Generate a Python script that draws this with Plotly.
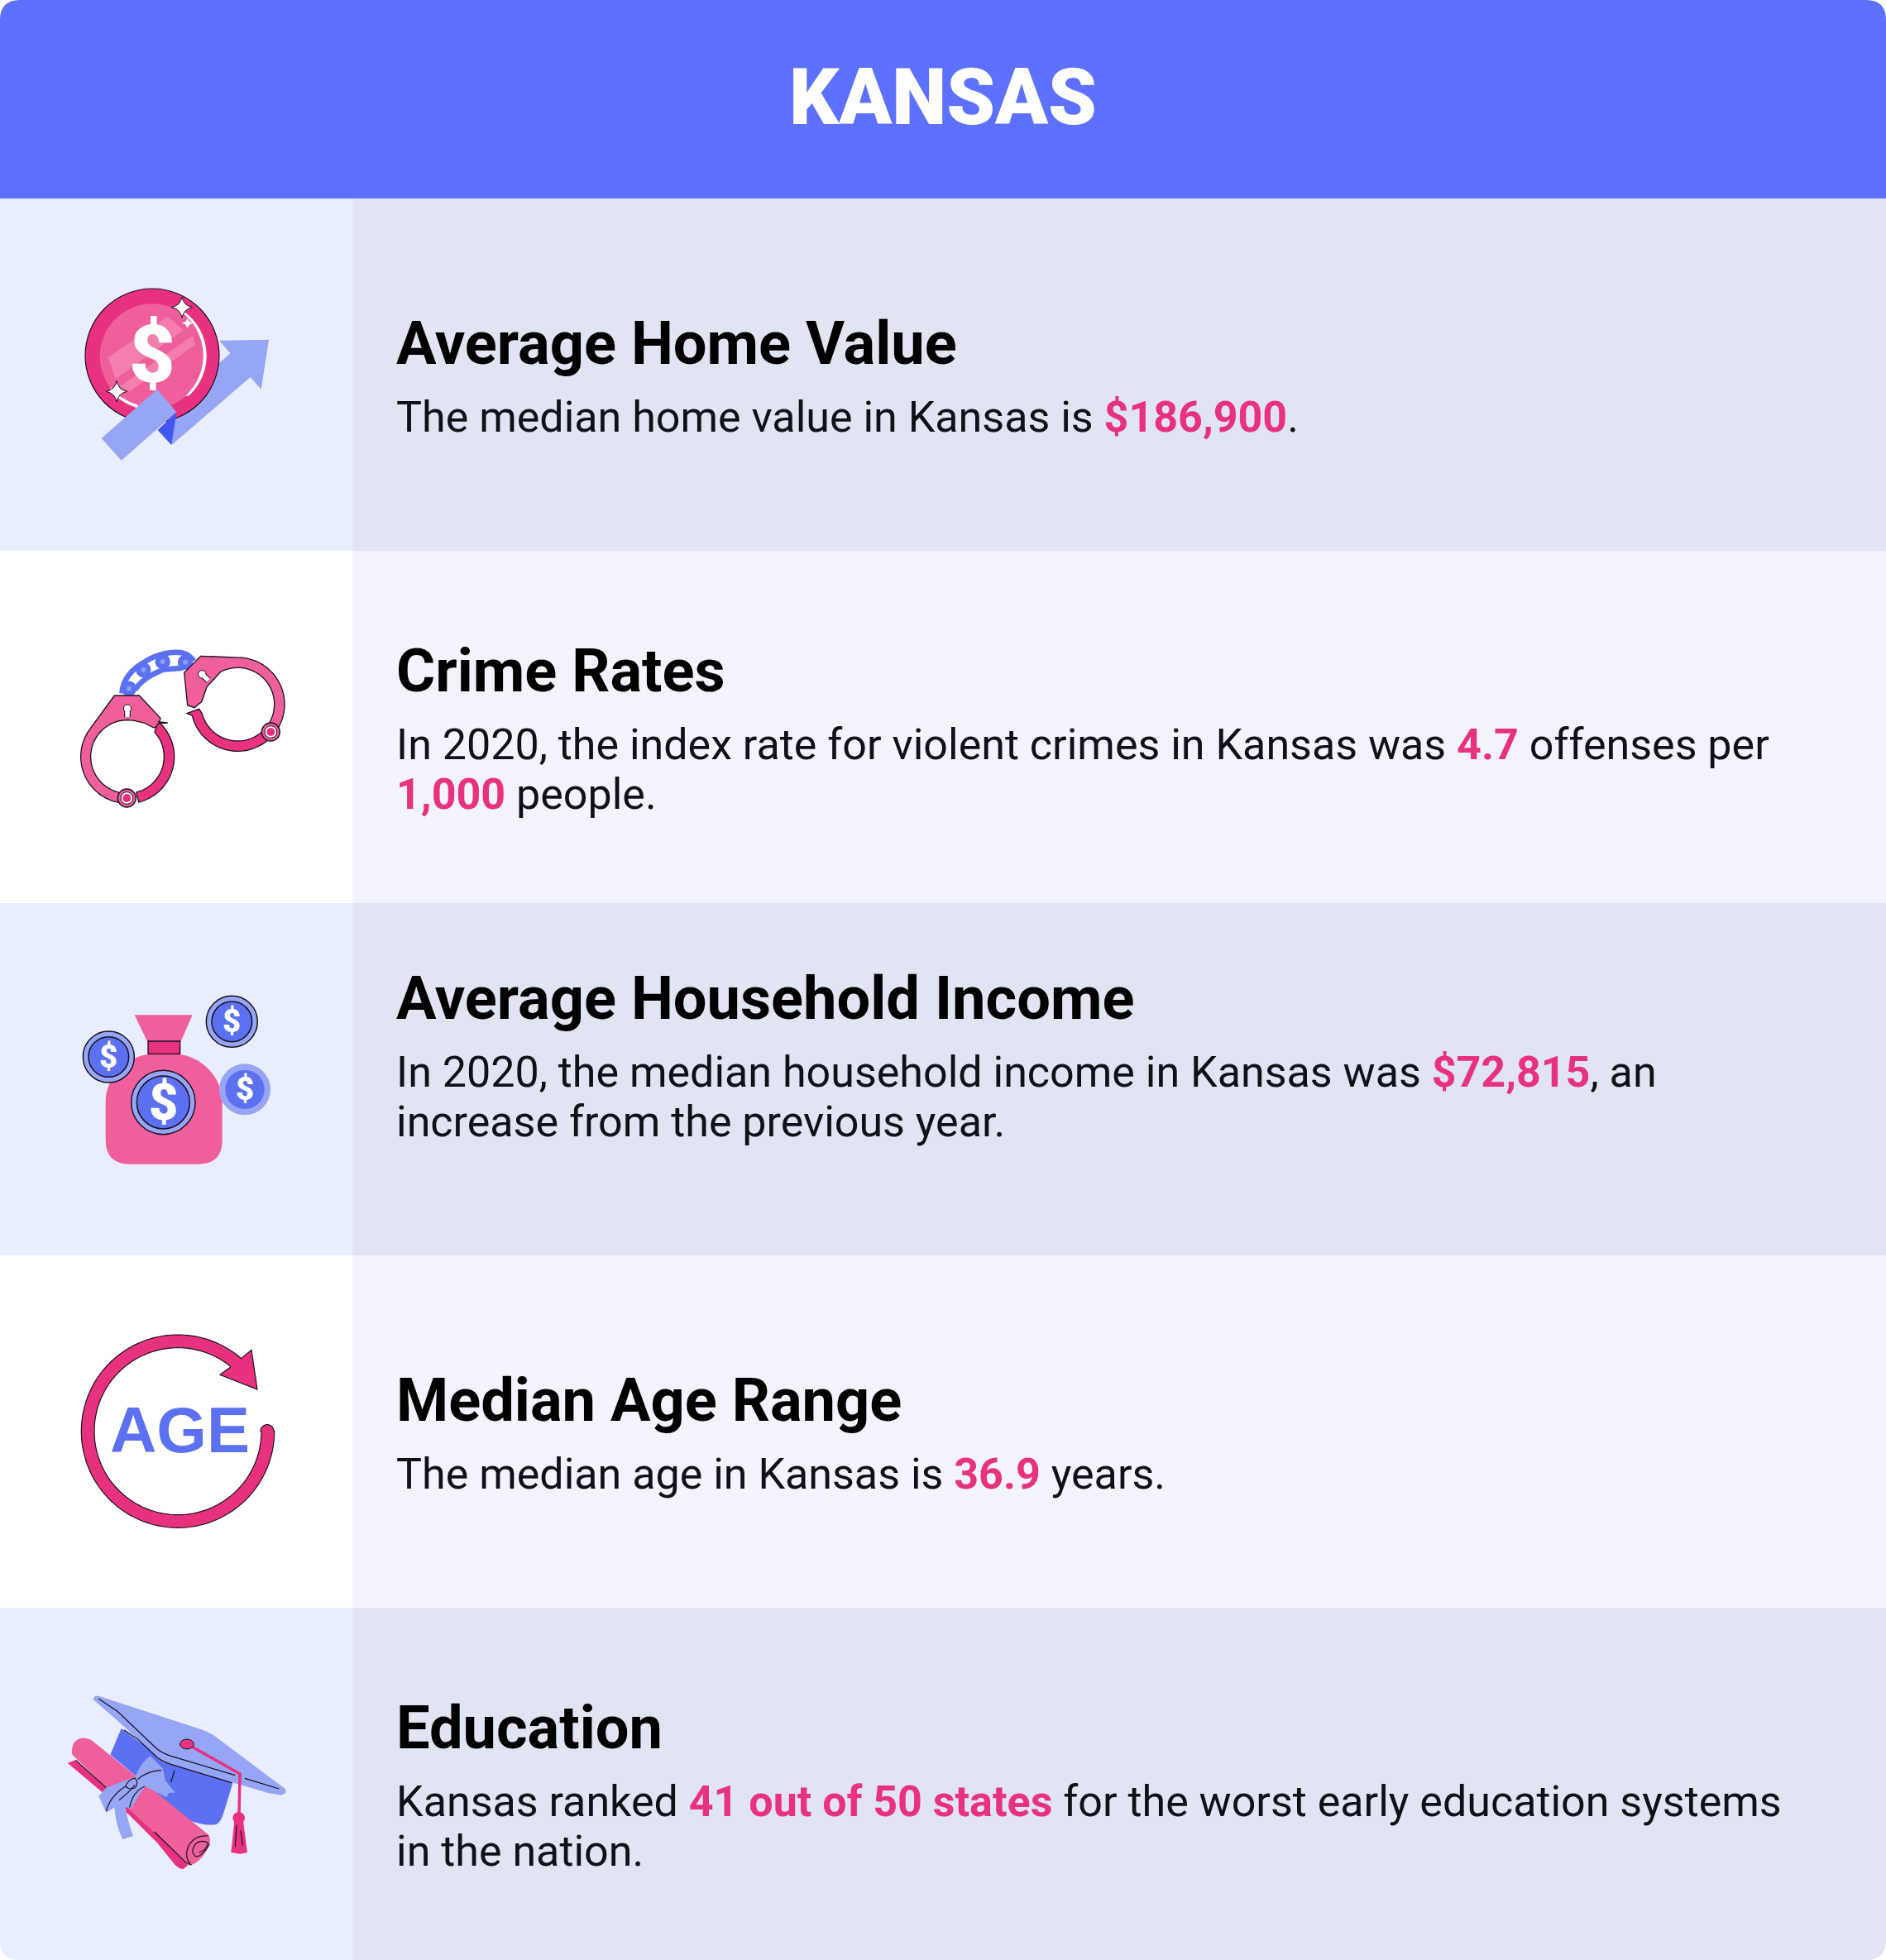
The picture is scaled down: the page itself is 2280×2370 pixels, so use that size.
import re
import numpy as np
import plotly.graph_objects as go

WIDTH, HEIGHT = 2280, 2370
TITLE = "KANSAS"
HEADINGS = ["Average Home Value", "Crime Rates", "Average Household Income", "Median Age Range", "Education"]
BODY_LINES = [
    ["The median home value in Kansas is {$186,900}."],
    ["In 2020, the index rate for violent crimes in Kansas was {4.7} offenses per", "{1,000} people."],
    ["In 2020, the median household income in Kansas was {$72,815}, an", "increase from the previous year."],
    ["The median age in Kansas is {36.9} years."],
    ["Kansas ranked {41 out of 50 states} for the worst early education systems", "in the nation."],
]
TEXT_SHIFT = [30, 0, -30, 30, 0]

BLUE = "#5C71FF"
COIN = "#5C70F2"
PERI = "#96A6F5"
DEEP = "#4258F5"
PINK = "#E8327F"
ROSE = "#EE5F9B"
BAND = "#F47FAF"
INK = "#1A1020"
LEFT_A, RIGHT_A = "#E9EEFF", "#E1E4F2"
LEFT_B, RIGHT_B = "#FFFFFF", "#F2F3FC"
HEADER_H, ROW_H, SPLIT, TEXT_X = 240, 426, 426, 478

shapes, notes = [], []


def add_path(d, fill="rgba(0,0,0,0)", line=None, w=1.0):
    shapes.append(dict(type="path", path=d, fillcolor=fill, layer="above",
                       line=dict(color=line or "rgba(0,0,0,0)", width=w if line else 0)))


class Icon:
    """Draws in the 3x crop coordinates of one icon cell."""

    def __init__(self, y0):
        self.y0 = y0

    def _xy(self, x, y):
        return x / 3, self.y0 + y / 3

    def path(self, d, fill="rgba(0,0,0,0)", line=None, w=1.0):
        def sub(m):
            x, y = self._xy(float(m.group(1)), float(m.group(2)))
            return f"{x:.2f},{y:.2f}"
        add_path(re.sub(r"(-?[\d.]+),(-?[\d.]+)", sub, d), fill, line, w)

    def poly(self, pts, fill="rgba(0,0,0,0)", line=None, w=1.0, close=True):
        d = "M " + " L ".join(f"{x:.1f},{y:.1f}" for x, y in pts) + (" Z" if close else "")
        self.path(d, fill, line, w)

    def circle(self, cx, cy, r, fill="rgba(0,0,0,0)", line=None, w=1.0, ry=None):
        ry = r if ry is None else ry
        x, y = self._xy(cx, cy)
        shapes.append(dict(type="circle", x0=x - r / 3, x1=x + r / 3, y0=y - ry / 3, y1=y + ry / 3,
                           fillcolor=fill, layer="above",
                           line=dict(color=line or "rgba(0,0,0,0)", width=w if line else 0)))

    def text(self, cx, cy, s, size, color="#FFFFFF", family="Roboto", weight=900):
        x, y = self._xy(cx, cy)
        notes.append(dict(x=x, y=y, text=s, showarrow=False, xanchor="center",
                          yanchor="middle", borderpad=0,
                          font=dict(family=family, size=size, color=color, weight=weight)))


def arc(cx, cy, r, a0, a1, n=48):
    t = np.radians(np.linspace(a0, a1, n))
    return list(zip(cx + r * np.cos(t), cy + r * np.sin(t)))


def star(ic, cx, cy, r, line=True):
    k = r * 0.16
    d = (f"M {cx},{cy-r} Q {cx+k},{cy-k} {cx+r},{cy} Q {cx+k},{cy+k} {cx},{cy+r} "
         f"Q {cx-k},{cy+k} {cx-r},{cy} Q {cx-k},{cy-k} {cx},{cy-r} Z")
    ic.path(d, "#FFFFFF", INK if line else None, 1)


def coin(ic, cx, cy, r, rin, size, outline=True):
    ic.circle(cx, cy, r, PERI, INK if outline else None, 1.5)
    ic.circle(cx, cy, rin, COIN, INK if outline else None, 1.5)
    ic.text(cx, cy, "$", size)


# ---- panels ----
R = 24
add_path(f"M 0,{HEADER_H} L 0,{R} Q 0,0 {R},0 L {WIDTH-R},0 Q {WIDTH},0 {WIDTH},{R} L {WIDTH},{HEADER_H} Z", BLUE)
for i in range(len(HEADINGS)):
    top = HEADER_H + i * ROW_H
    bot = top + ROW_H
    lf, rt = (LEFT_A, RIGHT_A) if i % 2 == 0 else (LEFT_B, RIGHT_B)
    if i == len(HEADINGS) - 1:
        add_path(f"M 0,{top} L {SPLIT},{top} L {SPLIT},{bot} L {R},{bot} Q 0,{bot} 0,{bot-R} Z", lf)
        add_path(f"M {SPLIT},{top} L {WIDTH},{top} L {WIDTH},{bot-R} Q {WIDTH},{bot} {WIDTH-R},{bot} L {SPLIT},{bot} Z", rt)
    else:
        add_path(f"M 0,{top} L {SPLIT},{top} L {SPLIT},{bot} L 0,{bot} Z", lf)
        add_path(f"M {SPLIT},{top} L {WIDTH},{top} L {WIDTH},{bot} L {SPLIT},{bot} Z", rt)

# ---- icon 1: coin and arrow ----
ic = Icon(240)
ic.poly([(795, 515), (975, 512), (947, 692), (908, 648), (624, 893), (600, 770), (835, 562)], PERI)
ic.circle(552, 570, 243, PINK, INK, 1.2)
ic.circle(552, 572, 190, ROSE)
ic.poly([(392, 577), (607, 428), (665, 478), (420, 655)], BAND)
ic.poly([(435, 682), (698, 498), (708, 530), (470, 700)], BAND)
ic.poly(arc(552, 570, 197, -52, 48) + arc(540, 570, 197, 48, -52), "#FFFFFF")
ic.poly(arc(552, 570, 197, 105, 140) + arc(552, 558, 197, 140, 105), "#FFFFFF")
ic.text(552, 566, "$", 96)
star(ic, 660, 395, 38)
star(ic, 680, 452, 20, False)
star(ic, 423, 700, 38)
ic.poly([(572, 840), (640, 775), (622, 895)], DEEP)
ic.poly([(368, 870), (570, 692), (640, 775), (440, 950)], PERI)

# ---- icon 2: handcuffs ----
ic = Icon(670)
ic.path("M 442,505 C 445,450 480,415 530,388 C 570,362 620,352 660,358 C 680,362 695,375 702,388",
        None, COIN, 6.5)
ic.path("M 490,492 C 510,460 540,440 590,420 C 620,412 660,422 695,398", None, COIN, 6.5)
for cx, cy in [(468, 488), (520, 420), (590, 390), (672, 392)]:
    ic.circle(cx, cy, 20, COIN, COIN, 5)
for cx, cy in [(468, 488), (520, 420), (590, 390), (672, 392)]:
    ic.circle(cx, cy, 9, "#8C9CF8")

lc = (462, 735)
ic.poly(arc(*lc, 169, 96, 218) + [(415, 513), (505, 513), (582, 595), (575, 622), (558, 630), (522, 612)]
        + arc(*lc, 133, 282, 100), ROSE, INK, 1.3)
ic.poly(arc(*lc, 170, -48, 76) + arc(*lc, 133, 76, -42) + [(565, 632), (572, 615), (608, 612)], PINK, INK, 1.3)
ic.circle(460, 885, 33, ROSE, INK, 1.3)
ic.circle(460, 885, 22, "#FFFFFF", INK, 1)
ic.circle(460, 885, 15, PINK)
ic.path("M 462,560 L 462,592", None, INK, 7.5)
ic.circle(462, 560, 14, "#FFFFFF", INK, 1)
ic.path("M 462,565 L 462,592", None, "#FFFFFF", 5.5)

rc = (862, 545)
ic.poly([(728, 370)] + arc(*rc, 170, -88, 30) + arc(*rc, 133, 35, -118)
        + [(750, 482), (732, 535), (705, 557), (680, 548), (668, 430)], ROSE, INK, 1.3)
ic.poly(arc(*rc, 170, 40, 166) + [(678, 578), (722, 562)] + arc(*rc, 133, 165, 45), PINK, INK, 1.3)
ic.circle(982, 645, 33, ROSE, INK, 1.3)
ic.circle(982, 645, 22, "#FFFFFF", INK, 1)
ic.circle(982, 645, 15, PINK)
ic.path("M 735,438 L 756,458", None, INK, 7.5)
ic.circle(733, 436, 14, "#FFFFFF", INK, 1)
ic.path("M 735,438 L 756,458", None, "#FFFFFF", 5.5)

# ---- icon 3: money bag ----
ic = Icon(1095)
ic.poly([(488, 397), (698, 397), (655, 495), (535, 495)], ROSE)
ic.path("M 535,540 C 450,552 383,630 383,710 L 383,850 Q 383,938 470,938 L 720,938 "
        "Q 806,938 806,850 L 806,710 C 806,630 740,552 653,540 Z", ROSE)
ic.poly([(537, 492), (653, 492), (653, 538), (537, 538)], PINK, INK, 1.3)
coin(ic, 394, 549, 93, 73, 38)
coin(ic, 841, 421, 93, 73, 38)
coin(ic, 888, 667, 93, 71, 38, False)
coin(ic, 592, 714, 116, 96, 61)

# ---- icon 4: age ring ----
ic = Icon(1520)
ac = (645, 632)
ic.poly(arc(*ac, 350, 0, 311, 160) + [(912, 337), (933, 480), (798, 427), (835, 400)]
        + arc(*ac, 303, 309, 0, 160) + arc(969, 632, 24, 180, 360, 16), PINK, INK, 1.2)
ic.text(651, 628, "AGE", 78, COIN, "Liberation Sans", 700)

# ---- icon 5: cap and diploma ----
ic = Icon(1945)
ic.path("M 440,435 L 400,530 L 690,770 Q 750,790 785,783 Q 800,775 810,745 L 845,630 L 590,555 L 540,510 Z", COIN)
ic.path("M 338,330 Q 340,312 360,318 L 735,440 Q 755,447 775,460 L 1035,655 Q 1042,672 1020,677 "
        "L 975,670 L 600,560 Q 570,545 545,515 L 430,410 Z", PERI)
ic.path("M 358,328 L 425,372 L 570,510 Q 590,525 620,535 L 853,605", None, INK, 1.2)
ic.path("M 450,440 L 500,475 L 570,540 Q 590,555 620,565 L 840,632", None, INK, 1.2)
ic.path("M 888,616 L 1012,654", None, INK, 1.2)
ic.path("M 633,587 L 620,630", None, INK, 1.2)
ic.path("M 245,560 L 275,550 L 385,650 L 560,810 L 690,925 L 665,945 Q 650,945 635,930 L 570,850 L 470,750 Z", PINK)
ic.path("M 262,530 Q 255,480 295,470 Q 325,468 345,488 L 755,820 Q 765,830 760,855 "
        "Q 735,915 695,930 Q 680,935 670,920 L 560,810 L 385,650 Z", ROSE)
ic.path("M 275,550 L 385,650", None, INK, 1.2)
ic.path("M 560,810 L 675,922 L 695,930", None, INK, 1.2)
ic.path("M 755,825 Q 700,820 680,870 Q 670,905 690,925", None, INK, 1.2)
ic.path("M 760,855 Q 735,900 710,900 Q 690,885 705,860 Q 725,835 755,850 Q 745,880 722,885", None, INK, 1.2)
ic.path("M 490,612 Q 510,560 545,535 L 590,580 L 600,625 L 635,668 L 612,668 L 605,685 L 525,645 "
        "L 475,725 L 455,720 Q 465,780 483,825 L 445,838 Q 418,780 415,722 L 385,740 L 358,680 L 385,650 L 450,625 Z", PERI)
ic.path("M 385,735 Q 400,680 455,645", None, INK, 1.2)
ic.path("M 432,695 Q 465,670 490,640", None, INK, 1.2)
ic.path("M 470,722 Q 480,665 525,645", None, INK, 1.2)
ic.path("M 500,620 Q 530,590 585,587", None, INK, 1.2)
ic.path("M 455,645 Q 465,620 490,615 Q 505,635 490,650 Q 470,660 455,645", None, INK, 1.2)
ic.path("M 680,492 L 870,600 L 867,745", None, PINK, 3.5)
ic.circle(678, 492, 25, PINK, INK, 1, ry=18)
ic.path("M 850,770 L 882,770 L 897,885 L 870,890 L 838,885 Z", PINK)
ic.circle(866, 760, 22, PINK)
ic.path("M 858,785 L 853,865", None, INK, 1.2)
ic.path("M 873,805 L 880,860", None, INK, 1.2)


# ---- text ----
def rich(line):
    return re.sub(r"\{(.+?)\}", lambda m: f'<b><span style="color:{PINK}">{m.group(1)}</span></b>', line)


def label(x, y, text, size, color, anchor="left", family="Roboto", weight=400):
    notes.append(dict(x=x, y=y, text=text, showarrow=False, xanchor=anchor, yanchor="middle",
                      borderpad=0, font=dict(family=family, size=size, color=color, weight=weight)))


label(WIDTH / 2, 118, TITLE, 94, "#FFFFFF", "center", "Roboto", 900)
for i, (head, lines) in enumerate(zip(HEADINGS, BODY_LINES)):
    top = HEADER_H + i * ROW_H
    off = TEXT_SHIFT[i]
    label(TEXT_X, top + 145 + off, head, 72.2, "#000000", weight=700)
    for j, line in enumerate(lines):
        label(TEXT_X, top + 234 + off + 60 * j, rich(line), 52, "#101018")

fig = go.Figure()
fig.update_layout(
    width=WIDTH, height=HEIGHT, margin=dict(l=0, r=0, t=0, b=0), autosize=False,
    paper_bgcolor="#FFFFFF", plot_bgcolor="#FFFFFF", showlegend=False,
    xaxis=dict(visible=False, range=[0, WIDTH], fixedrange=True),
    yaxis=dict(visible=False, range=[HEIGHT, 0], fixedrange=True),
    shapes=shapes, annotations=notes,
)
fig.write_html("out.html", config=dict(displayModeBar=False),
               post_script="document.body.style.margin='0';document.body.style.overflow='hidden';")
